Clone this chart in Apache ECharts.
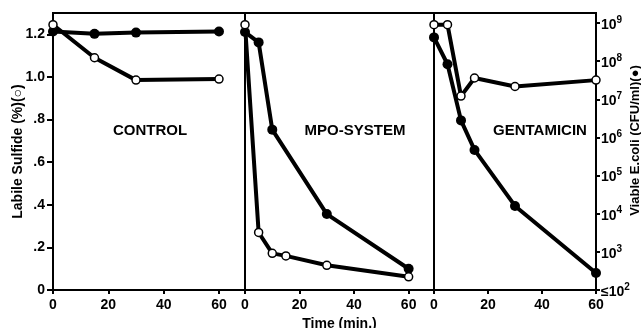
<!DOCTYPE html>
<html>
<head>
<meta charset="utf-8">
<script src="https://cdn.jsdelivr.net/npm/echarts@6/dist/echarts.min.js"></script>
<style>
  html, body { margin: 0; padding: 0; background: #fff; }
  #chart { width: 641px; height: 328px; }
</style>
</head>
<body>
<div id="chart"></div>
<script>
// panel names
const panels = ['CONTROL', 'MPO-SYSTEM', 'GENTAMICIN'];

// labile sulfide (%) - open circles, left axis
const sulfideTime = [
  [0, 15, 30, 60],
  [0, 5, 10, 15, 30, 60],
  [0, 5, 10, 15, 30, 60]
];
const sulfide = [
  [1.245, 1.09, 0.985, 0.99],
  [1.245, 0.27, 0.172, 0.16, 0.116, 0.062],
  [1.245, 1.245, 0.91, 0.995, 0.955, 0.985]
];

// viable E.coli (CFU/ml) - filled circles, right log axis
const coliTime = [
  [0, 15, 30, 60],
  [0, 5, 10, 30, 60],
  [0, 5, 10, 15, 30, 60]
];
const coli = [
  [6.0e8, 5.2e8, 5.6e8, 6.0e8],
  [5.8e8, 3.1e8, 1.6e6, 9.8e3, 3.6e2],
  [4.2e8, 8.3e7, 2.8e6, 4.7e5, 1.6e4, 2.8e2]
];

const xTicks = [0, 20, 40, 60];

const FONT = '"Liberation Sans", Arial, sans-serif';
const chart = echarts.init(document.getElementById('chart'), null, { renderer: 'canvas' });

// grid frames ; panels 1 and 2 run a bit past 60 min up to the next panel
const grids = [
  { left: 53, width: 192, xmax: 69.4, labelX: 92 },
  { left: 245, width: 189, xmax: 69.3, labelX: 105 },
  { left: 434, width: 162, xmax: 60, labelX: 101 }
];

const grid = [], xAxis = [], yAxis = [], series = [], title = [];

grids.forEach((g, i) => {
  grid.push({
    left: g.left, top: 13, width: g.width, height: 277,
    outerBoundsMode: 'none', containLabel: false,
    show: true, borderColor: '#000', borderWidth: 2, backgroundColor: 'transparent'
  });
  xAxis.push({
    type: 'value', gridIndex: i, min: 0, max: g.xmax, interval: 20,
    axisLine: { show: true, lineStyle: { color: '#000', width: 2 } },
    axisTick: { show: true, length: 4, lineStyle: { color: '#000', width: 2 } },
    splitLine: { show: false },
    axisLabel: {
      showMaxLabel: g.xmax === 60, color: '#000', fontFamily: FONT, fontWeight: 'bold', fontSize: 14, margin: 8,
      formatter: v => xTicks.indexOf(v) >= 0 ? String(v) : ''
    },
    name: i === 1 ? 'Time (min.)' : '',
    nameLocation: 'middle', nameGap: 27, nameMoveOverlap: false,
    nameTextStyle: { color: '#000', fontFamily: FONT, fontWeight: 'bold', fontSize: 14 }
  });
  // left: labile sulfide
  yAxis.push({
    type: 'value', gridIndex: i, min: 0, max: 1.3, interval: 0.2, position: 'left',
    show: i === 0,
    axisLine: { show: true, lineStyle: { color: '#000', width: 2 } },
    axisTick: { show: true, length: 6, lineStyle: { color: '#000', width: 2 } },
    splitLine: { show: false },
    axisLabel: {
      showMaxLabel: false, color: '#000', fontFamily: FONT, fontWeight: 'bold', fontSize: 14, margin: 8,
      formatter: v => v === 0 ? '0' : v.toFixed(1).replace(/^0/, '')
    },
    name: 'Labile Sulfide (%)(○)', nameLocation: 'middle', nameGap: 28, nameRotate: 90, nameMoveOverlap: false,
    nameTextStyle: { color: '#000', fontFamily: FONT, fontWeight: 'bold', fontSize: 14 }
  });
  // right: viable E.coli, log scale
  yAxis.push({
    type: 'log', logBase: 10, gridIndex: i, min: 100, max: 1.83e9, interval: 1, position: 'right',
    show: i === 2,
    axisLine: { show: true, lineStyle: { color: '#000', width: 2 } },
    axisTick: { show: true, length: 4, lineStyle: { color: '#000', width: 2 } },
    splitLine: { show: false },
    axisLabel: {
      showMaxLabel: false, margin: 5,
      formatter: v => {
        const e = Math.round(Math.log10(v));
        return (e === 2 ? '{b|≤10}' : '{b|10}') + '{s|' + e + '}';
      },
      rich: {
        b: { color: '#000', fontFamily: FONT, fontWeight: 'bold', fontSize: 14, padding: [4, 0, 0, 0] },
        s: { color: '#000', fontFamily: FONT, fontWeight: 'bold', fontSize: 10, padding: [0, 0, 6, 0] }
      }
    },
    name: 'Viable E.coli (CFU/ml)(●)', nameLocation: 'middle', nameGap: 33, nameRotate: 90, nameMoveOverlap: false,
    nameTextStyle: { color: '#000', fontFamily: FONT, fontWeight: 'bold', fontSize: 13, padding: [0, 0, 0, 22] }
  });

  series.push({
    type: 'line', xAxisIndex: i, yAxisIndex: 2 * i + 1,
    data: coliTime[i].map((t, k) => [t, coli[i][k]]),
    symbol: 'circle', symbolSize: 10,
    lineStyle: { color: '#000', width: 4 },
    itemStyle: { color: '#000', borderColor: '#000', borderWidth: 0 },
    z: 3
  });
  series.push({
    type: 'line', xAxisIndex: i, yAxisIndex: 2 * i,
    data: sulfideTime[i].map((t, k) => [t, sulfide[i][k]]),
    symbol: 'circle', symbolSize: 8,
    showAllSymbol: true,
    lineStyle: { color: '#000', width: 4 },
    itemStyle: { color: '#fff', borderColor: '#000', borderWidth: 1.5 },
    z: 4
  });

  title.push({
    text: panels[i],
    left: g.left + g.labelX,
    top: 118,
    textAlign: 'center',
    textStyle: { color: '#000', fontFamily: FONT, fontWeight: 'bold', fontSize: 15 }
  });
});

chart.setOption({
  animation: false,
  backgroundColor: '#fff',
  title: title,
  grid: grid,
  xAxis: xAxis,
  yAxis: yAxis,
  series: series
});
</script>
</body>
</html>
